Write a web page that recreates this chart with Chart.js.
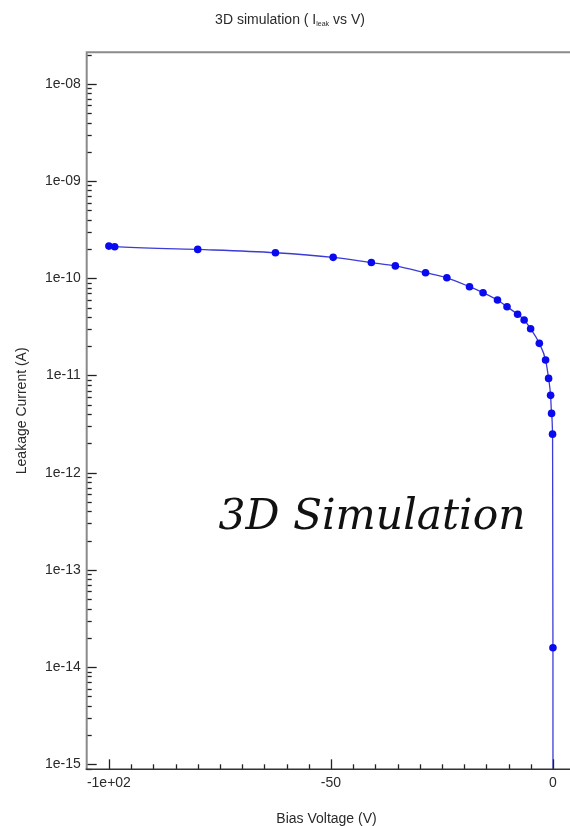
<!DOCTYPE html>
<html>
<head>
<meta charset="utf-8">
<title>3D simulation (I_leak vs V)</title>
<script src="https://cdn.jsdelivr.net/npm/chart.js@4/dist/chart.umd.min.js"></script>
<style>
  html, body { margin: 0; padding: 0; background: #ffffff; overflow: hidden; }
  #wrap { width: 570px; height: 826px; overflow: hidden; }
  canvas { display: block; }
</style>
</head>
<body>
<div id="wrap"><canvas id="c" width="580" height="826"></canvas></div>
<script>
// Bias sweep (V) and simulated leakage current (A)
const voltage = [-100, -98.7, -80, -62.5, -49.5, -40.9, -35.5, -28.7, -23.9, -18.8,
                 -15.75, -12.5, -10.35, -7.97, -6.5, -5.04, -3.08, -1.67, -0.99, -0.54,
                 -0.32, -0.1, -0.01, 0];
const current = [2.14e-10, 2.11e-10, 1.98e-10, 1.83e-10, 1.64e-10, 1.45e-10, 1.34e-10,
                 1.14e-10, 1.01e-10, 8.18e-11, 7.10e-11, 5.97e-11, 5.09e-11, 4.26e-11,
                 3.72e-11, 3.02e-11, 2.14e-11, 1.44e-11, 9.33e-12, 6.24e-12, 4.07e-12,
                 2.49e-12, 1.58e-14, 1e-16];

// Axis tick labels
const xTickValues = [-100, -50, 0];
const xTickLabels = ['-1e+02', '-50', '0'];
const yTickExponents = [-8, -9, -10, -11, -12, -13, -14, -15];
const yTickLabels = ['1e-08', '1e-09', '1e-10', '1e-11', '1e-12', '1e-13', '1e-14', '1e-15'];

const TICK_FONT = { family: 'Liberation Sans', size: 14 };
const TEXT_COLOR = '#2a2a2a';

function decadeOf(v) {
  const e = Math.round(Math.log10(v));
  return Math.abs(v / Math.pow(10, e) - 1) < 1e-6 ? e : null;
}

// Titles, overlay caption, inward tick marks and the plot frame
const decorations = {
  id: 'decorations',
  afterDraw(chart) {
    const { ctx, chartArea: a, scales: { x, y } } = chart;
    ctx.save();

    // inward tick marks
    ctx.strokeStyle = '#222';
    ctx.lineWidth = 1.3;
    y.ticks.forEach(t => {
      const py = Math.round(y.getPixelForValue(t.value)) + 0.5;
      const len = decadeOf(t.value) !== null ? 10 : 5;
      ctx.beginPath(); ctx.moveTo(a.left, py); ctx.lineTo(a.left + len, py); ctx.stroke();
    });
    x.ticks.forEach(t => {
      const px = Math.round(x.getPixelForValue(t.value)) + 0.5;
      const len = xTickValues.includes(t.value) ? 10 : 5;
      ctx.beginPath(); ctx.moveTo(px, a.bottom); ctx.lineTo(px, a.bottom - len); ctx.stroke();
    });

    // frame: left and top in grey, bottom axis darker
    ctx.strokeStyle = '#8a8a8a';
    ctx.lineWidth = 2;
    ctx.beginPath();
    ctx.moveTo(a.left, a.bottom); ctx.lineTo(a.left, a.top); ctx.lineTo(a.right + 10, a.top);
    ctx.stroke();
    ctx.strokeStyle = '#333';
    ctx.lineWidth = 1.5;
    ctx.beginPath(); ctx.moveTo(a.left - 1, a.bottom); ctx.lineTo(a.right + 10, a.bottom); ctx.stroke();

    // chart title with subscript
    ctx.fillStyle = TEXT_COLOR;
    ctx.textBaseline = 'alphabetic';
    ctx.textAlign = 'left';
    const main = '14px "Liberation Sans"', sub = '7px "Liberation Sans"';
    const p1 = '3D simulation ( I', p2 = 'leak', p3 = ' vs V)';
    ctx.font = main; const w1 = ctx.measureText(p1).width, w3 = ctx.measureText(p3).width;
    ctx.font = sub; const w2 = ctx.measureText(p2).width;
    let tx = 290 - (w1 + w2 + w3) / 2;
    const tb = 23.5;
    ctx.font = main; ctx.fillText(p1, tx, tb); tx += w1;
    ctx.font = sub; ctx.fillText(p2, tx, tb + 2); tx += w2;
    ctx.font = main; ctx.fillText(p3, tx, tb);

    // axis titles
    ctx.font = '14px "Liberation Sans"';
    ctx.textAlign = 'center';
    ctx.fillText('Bias Voltage (V)', 326.5, 822.5);
    ctx.save();
    ctx.translate(26, (a.top + a.bottom) / 2);
    ctx.rotate(-Math.PI / 2);
    ctx.fillText('Leakage Current (A)', 0, 0);
    ctx.restore();

    // caption inside the plot
    ctx.font = 'italic 43px "DejaVu Serif"';
    ctx.fillStyle = '#111';
    ctx.textAlign = 'left';
    const cap = '3D Simulation';
    const cw = ctx.measureText(cap).width;
    ctx.save();
    ctx.translate(218.5, 528.5);
    ctx.scale(307 / cw, 1);
    ctx.fillText(cap, 0, 0);
    ctx.restore();

    ctx.restore();
  }
};

new Chart(document.getElementById('c'), {
  type: 'line',
  data: {
    datasets: [{
      data: voltage.map((v, i) => ({ x: v, y: current[i] })),
      borderColor: '#3b3bd6',
      borderWidth: 1.3,
      backgroundColor: '#0a0af0',
      pointBackgroundColor: '#0a0af0',
      pointBorderColor: '#0a0af0',
      pointRadius: 3.8,
      pointBorderWidth: 0,
      cubicInterpolationMode: 'monotone',
      fill: false,
      clip: 0
    }]
  },
  options: {
    responsive: false,
    devicePixelRatio: 1,
    animation: false,
    events: [],
    layout: { padding: { top: 52.3, right: 4.8, left: 0, bottom: 0 } },
    plugins: { legend: { display: false }, title: { display: false }, tooltip: { enabled: false } },
    scales: {
      x: {
        type: 'linear',
        min: -105,
        max: 5,
        grid: { display: false, drawTicks: false },
        border: { display: false },
        afterFit(scale) { scale.height = 56.7; },
        afterBuildTicks(scale) {
          const ticks = [];
          for (let v = -100; v <= 0; v += 5) ticks.push({ value: v });
          scale.ticks = ticks;
        },
        ticks: {
          autoSkip: false,
          maxRotation: 0,
          padding: 5,
          color: TEXT_COLOR,
          font: TICK_FONT,
          callback(value) {
            const i = xTickValues.indexOf(value);
            return i >= 0 ? xTickLabels[i] : '';
          }
        }
      },
      y: {
        type: 'logarithmic',
        min: 8.88e-16,
        max: 2.11e-8,
        grid: { display: false, drawTicks: false },
        border: { display: false },
        afterFit(scale) { scale.width = 86.7; },
        afterBuildTicks(scale) {
          const ticks = [];
          for (let e = -16; e <= -8; e++) {
            for (let m = 1; m <= 9; m++) {
              const v = m * Math.pow(10, e);
              if (v >= scale.min && v <= scale.max) ticks.push({ value: v });
            }
          }
          scale.ticks = ticks;
        },
        ticks: {
          autoSkip: false,
          padding: 6,
          color: TEXT_COLOR,
          font: TICK_FONT,
          callback(value) {
            const e = decadeOf(value);
            const i = e === null ? -1 : yTickExponents.indexOf(e);
            return i >= 0 ? yTickLabels[i] : '';
          }
        }
      }
    }
  },
  plugins: [decorations]
});
</script>
</body>
</html>
